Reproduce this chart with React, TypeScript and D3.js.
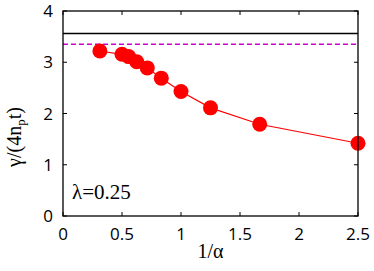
import React from 'react';
import * as d3 from 'd3';

const xValues = [0.3125, 0.5, 0.556, 0.625, 0.714, 0.833, 1.0, 1.25, 1.667, 2.5];
const yValues = [3.22, 3.155, 3.11, 3.01, 2.89, 2.69, 2.43, 2.11, 1.79, 1.42];
const blackLevel = 3.56;
const magentaLevel = 3.35;
const xTicks = [0, 0.5, 1, 1.5, 2, 2.5];
const yTicks = [0, 1, 2, 3, 4];

const W = 374;
const H = 271;
const margin = { left: 63, right: 16, top: 11, bottom: 55 };

export default function App() {
    const x = d3.scaleLinear().domain([0, 2.5]).range([margin.left, W - margin.right]);
    const y = d3.scaleLinear().domain([0, 4]).range([H - margin.bottom, margin.top]);
    const line = d3.line<number>()
        .x((_, i) => x(xValues[i]))
        .y(d => y(d));
    const x0 = x(0), x1 = x(2.5), y0 = y(0), y1 = y(4);
    const tickFont = { fontFamily: "'Open Sans', 'DejaVu Sans', sans-serif" };
    const serif = { fontFamily: "'Liberation Serif', serif" };

    return (
        <svg width={W} height={H} style={{ position: 'absolute', left: 0, top: 0, background: '#fff' }}>
            {/* reference lines */}
            <line x1={x0} x2={x1} y1={y(blackLevel)} y2={y(blackLevel)} stroke="#000" strokeWidth={1.5} />
            <line x1={x0} x2={x1} y1={y(magentaLevel)} y2={y(magentaLevel)} stroke="#cc00cc" strokeWidth={1.5} strokeDasharray="5,3" />

            {/* ticks, inward on all four sides */}
            {xTicks.map(t => (
                <g key={'xt' + t}>
                    <line x1={x(t)} x2={x(t)} y1={y0} y2={y0 - 4} stroke="#000" />
                    <line x1={x(t)} x2={x(t)} y1={y1} y2={y1 + 4} stroke="#000" />
                    <text x={x(t)} y={y0 + 24} textAnchor="middle" fontSize={17} style={tickFont}>{t}</text>
                </g>
            ))}
            {yTicks.map(t => (
                <g key={'yt' + t}>
                    <line x1={x0} x2={x0 + 4} y1={y(t)} y2={y(t)} stroke="#000" />
                    <line x1={x1} x2={x1 - 4} y1={y(t)} y2={y(t)} stroke="#000" />
                    <text x={x0 - 10} y={y(t) + 6} textAnchor="end" fontSize={17} style={tickFont}>{t}</text>
                </g>
            ))}

            {/* data */}
            <path d={line(yValues) || ''} fill="none" stroke="#ff0000" strokeWidth={1.2} />
            {yValues.map((v, i) => (
                <circle key={i} cx={x(xValues[i])} cy={y(v)} r={7.5} fill="#ff0000" />
            ))}

            {/* frame */}
            <rect x={x0} y={y1} width={x1 - x0} height={y0 - y1} fill="none" stroke="#000" strokeWidth={1.3} />

            <text x={72} y={199} fontSize={21} style={serif}>λ=0.25</text>
            <text x={(x0 + x1) / 2} y={258} textAnchor="middle" fontSize={20} style={serif}>1/α</text>
            <text transform={`translate(21,137) rotate(-90)`} textAnchor="middle" fontSize={20} style={serif}>
                γ/(4n<tspan fontSize={13} dy={4}>p</tspan><tspan dy={-4}>t)</tspan>
            </text>
        </svg>
    );
}
